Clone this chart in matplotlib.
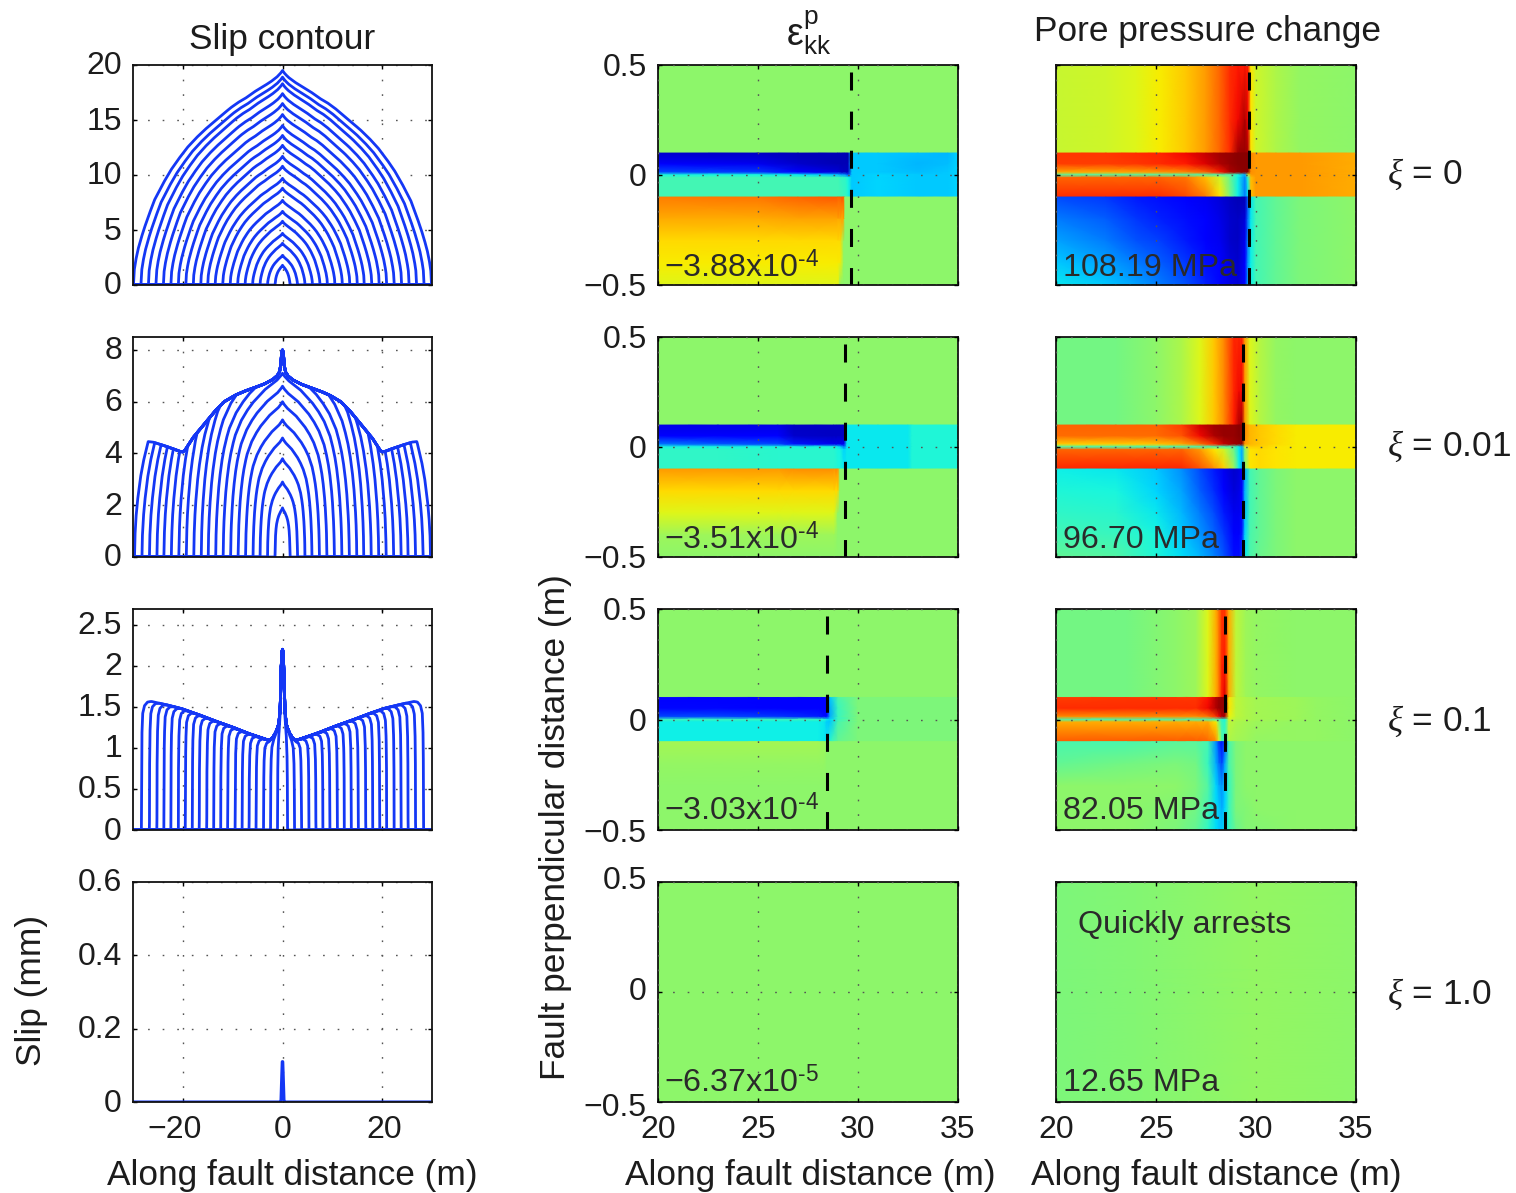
import numpy as np
import matplotlib
matplotlib.use("Agg")
import matplotlib.pyplot as plt
from matplotlib.colors import ListedColormap
from matplotlib.transforms import ScaledTranslation

plt.rcParams['font.family'] = ['Liberation Sans', 'DejaVu Sans']
plt.rcParams['mathtext.fontset'] = 'custom'
plt.rcParams['mathtext.rm'] = 'Liberation Sans'
plt.rcParams['mathtext.it'] = 'Liberation Serif:italic'
plt.rcParams['mathtext.bf'] = 'Liberation Sans:bold'

W, H = 1516, 1193
TXT = '#1c1c1c'
BLUE = '#1437f5'

# ---------- slip contours (m half length, peak slip) ----------
slip1_len = [1.5, 3.0, 4.5, 6.0, 7.5, 9.0, 10.5, 12.0, 13.5, 15.0, 16.4, 17.9, 19.4, 20.9, 22.4, 23.9, 25.4, 26.9, 28.4, 29.9]
slip1_peak = [1.8, 2.7, 3.8, 4.7, 5.8, 6.7, 7.7, 8.8, 9.7, 10.8, 11.7, 12.7, 13.6, 14.5, 15.5, 16.5, 17.4, 18.3, 18.9, 19.5]
slip1_u = [0, 0.01, 0.02, 0.04, 0.08, 0.13, 0.19, 0.25, 0.30, 0.35, 0.41, 0.46, 0.52, 0.58, 0.64, 0.70, 0.75, 0.80, 0.86, 0.90, 0.93, 0.95, 0.97, 0.985, 0.995, 1.0]
slip1_f = [1.0, 0.99, 0.982, 0.968, 0.947, 0.925, 0.90, 0.87, 0.85, 0.825, 0.79, 0.76, 0.725, 0.685, 0.64, 0.585, 0.535, 0.475, 0.395, 0.32, 0.26, 0.215, 0.165, 0.115, 0.07, 0.0]

slip2_len = [1.5, 3.0, 4.5, 5.9, 7.4, 8.9, 10.4, 11.9, 13.4, 14.9, 16.3, 17.8, 19.3, 20.8, 22.3, 23.8, 25.2, 26.7, 28.2, 29.7]
slip2_peak = [1.9, 2.9, 3.8, 4.6, 5.3, 6.0, 6.6, 7.1, 7.5, 8.0, 8.5, 8.5, 9, 9, 9, 9, 9, 9, 9, 9]
slip2_u = [0, 0.03, 0.1, 0.2, 0.3, 0.4, 0.5, 0.6, 0.7, 0.75, 0.8, 0.84, 0.88, 0.91, 0.94, 0.96, 0.98, 0.99, 0.997, 1.0]
slip2_f = [1.0, 0.985, 0.96, 0.935, 0.91, 0.875, 0.84, 0.795, 0.74, 0.70, 0.66, 0.61, 0.55, 0.49, 0.41, 0.34, 0.24, 0.17, 0.09, 0.0]
env2_x = [0, 0.1, 0.2, 0.3, 0.4, 0.6, 1.07, 2, 3.7, 5.5, 7.7, 9.5, 11.7, 13.5, 15, 16.5, 18, 19, 19.6, 20, 20.6, 21.5, 23.7, 25, 26, 27, 30]
env2_s = [8.0, 7.95, 7.8, 7.55, 7.35, 7.15, 7.0, 6.85, 6.68, 6.55, 6.4, 6.25, 6.0, 5.65, 5.3, 4.95, 4.6, 4.3, 4.12, 4.06, 4.08, 4.15, 4.3, 4.38, 4.44, 4.46, 4.46]

slip3_len = [1.0, 2.4, 3.8, 5.3, 6.7, 8.1, 9.5, 11.0, 12.4, 13.8, 15.2, 16.7, 18.1, 19.5, 20.9, 22.4, 23.8, 25.2, 26.7, 28.3]
slip3_dist = [0, 0.03, 0.1, 0.25, 0.6, 1.2, 2.0, 60]
slip3_rise = [0, 0.5, 0.75, 0.9, 0.96, 0.99, 1.0, 1.0]
env3_x = [0, 0.15, 0.3, 0.45, 0.7, 1.0, 1.4, 2.0, 2.7, 3.7, 7.1, 10.4, 13.7, 17.1, 20.4, 23.7, 26.7, 28.5, 30]
env3_s = [2.2, 2.15, 1.9, 1.5, 1.3, 1.24, 1.18, 1.12, 1.09, 1.11, 1.18, 1.26, 1.33, 1.41, 1.48, 1.53, 1.57, 1.58, 1.58]

slip4_x = [-30, -0.5, -0.3, -0.15, -0.05, 0.05, 0.15, 0.3, 0.5, 30]
slip4_y = [0, 0, 0.005, 0.07, 0.11, 0.11, 0.07, 0.005, 0, 0]

yticks_slip = [[0, 5, 10, 15, 20], [0, 2, 4, 6, 8], [0, 0.5, 1, 1.5, 2, 2.5], [0, 0.2, 0.4, 0.6]]
yticklabels_slip = [['0', '5', '10', '15', '20'], ['0', '2', '4', '6', '8'],
                    ['0', '0.5', '1', '1.5', '2', '2.5'], ['0', '0.2', '0.4', '0.6']]
ylims_slip = [20, 8.5, 2.69, 0.6]

# ---------- field panels, values are positions on the jet scale x100 ----------
Y = [0.5, 0.25, 0.101, 0.099, 0.05, 0.012, 0.0, -0.012, -0.099, -0.101, -0.2, -0.3, -0.4, -0.5]

S1_x = [20, 25, 27, 29.0, 29.1, 29.3, 29.35, 29.5, 29.7, 31, 33, 34.5, 35]
S1 = [[52]*13, [52]*13, [52]*13,
      [7, 6, 5, 5, 5, 5, 5, 4, 33, 33, 32, 31, 34],
      [12, 10, 7, 5, 5, 5, 5, 5, 33, 33, 31, 32, 34],
      [20, 18, 12, 8, 7, 6, 6, 6, 33, 33, 32, 33, 34],
      [38, 38, 36, 32, 30, 28, 28, 20, 33, 34, 33, 33, 34],
      [43, 43, 43, 43, 42, 41, 41, 38, 33, 34, 33, 33, 34],
      [43, 43, 43, 43, 43, 42, 42, 39, 33, 34, 33, 33, 34],
      [77, 78, 80, 81, 81, 81, 52, 52, 52, 52, 52, 52, 52],
      [72, 72, 73, 73, 73, 73, 52, 52, 52, 52, 52, 52, 52],
      [67, 67, 67, 67, 67, 52, 52, 52, 52, 52, 52, 52, 52],
      [65, 65, 65, 65, 65, 52, 52, 52, 52, 52, 52, 52, 52],
      [62, 62, 62, 62, 52, 52, 52, 52, 52, 52, 52, 52, 52]]

S2_x = [20, 23, 26, 26.8, 28.8, 29.0, 29.1, 29.3, 29.45, 31, 32.5, 32.7, 35]
S2 = [[52]*13, [52]*13, [52]*13,
      [9, 9, 9, 6, 6, 6, 6, 6, 36, 36, 36, 39, 39],
      [12, 12, 12, 7, 6, 6, 6, 6, 36, 36, 36, 39, 39],
      [25, 22, 20, 15, 10, 10, 10, 10, 36, 36, 36, 39, 39],
      [38, 38, 38, 38, 38, 36, 34, 24, 36, 36, 36, 39, 39],
      [41, 41, 40, 40, 40, 38, 38, 34, 36, 36, 36, 39, 39],
      [41, 41, 40, 40, 40, 39, 38, 36, 36, 36, 36, 39, 39],
      [74, 74, 74, 75, 75, 75, 52, 52, 52, 52, 52, 52, 52],
      [67, 67, 67, 67, 67, 67, 52, 52, 52, 52, 52, 52, 52],
      [62, 62, 62, 62, 62, 52, 52, 52, 52, 52, 52, 52, 52],
      [54, 54, 54, 54, 54, 52, 52, 52, 52, 52, 52, 52, 52],
      [52]*13]

S3_x = [20, 23, 26, 28, 28.3, 28.45, 28.6, 29, 30, 35]
S3 = [[52]*10, [52]*10, [52]*10,
      [12, 12, 11, 11, 11, 11, 33, 44, 50, 50],
      [13, 13, 12, 12, 11, 11, 30, 42, 50, 50],
      [20, 20, 18, 16, 14, 14, 30, 42, 50, 50],
      [42, 42, 42, 42, 40, 36, 34, 42, 50, 50],
      [37, 37, 37, 37, 36, 33, 33, 44, 50, 50],
      [37, 37, 37, 37, 36, 36, 40, 47, 50, 50],
      [55, 55, 55, 55, 54, 52, 52, 52, 52, 52],
      [53, 53, 53, 53, 53, 52, 52, 52, 52, 52],
      [52]*10, [52]*10, [52]*10]

S4_x = [20, 35]
S4 = [[52, 52]]*14

P1_x = [20, 22.5, 24, 25.2, 26.5, 27.5, 28.2, 28.7, 29.1, 29.45, 29.6, 29.75, 30, 31, 32.2, 35]
P1 = [[59, 60, 62, 65, 69, 74, 80, 86, 88, 88, 88, 66, 60, 56, 53, 52],
      [59, 60, 62, 65, 69, 74, 80, 86, 90, 96, 90, 66, 60, 56, 53, 52],
      [59, 60, 62, 65, 69, 74, 80, 86, 97, 98, 96, 66, 60, 56, 53, 52],
      [85, 85, 86, 87, 90, 94, 97, 98, 99, 99, 99, 76, 74, 74, 74, 72],
      [84, 84, 85, 86, 88, 92, 96, 98, 99, 99, 99, 75, 74, 74, 74, 72],
      [72, 72, 73, 74, 76, 80, 88, 96, 98, 99, 99, 75, 74, 74, 74, 72],
      [45, 45, 45, 45, 45, 45, 45, 45, 38, 30, 60, 74, 74, 74, 74, 72],
      [80, 80, 80, 80, 78, 70, 60, 48, 37, 26, 40, 70, 74, 74, 74, 72],
      [86, 86, 86, 86, 83, 77, 66, 50, 37, 25, 35, 70, 74, 74, 74, 72],
      [20, 18, 15, 14, 12, 10, 8, 6, 5, 5, 22, 36, 43, 47, 50, 52],
      [25, 22, 18, 16, 14, 11, 9, 7, 6, 8, 24, 36, 43, 47, 50, 52],
      [29, 25, 21, 19, 15, 12, 10, 7, 6, 10, 26, 37, 43, 47, 50, 52],
      [33, 29, 25, 22, 18, 14, 11, 8, 7, 12, 28, 37, 43, 47, 50, 52],
      [36, 33, 29, 25, 21, 16, 13, 9, 8, 13, 30, 37, 43, 47, 50, 52]]

P2_x = [20, 23, 25, 26.3, 27.2, 27.9, 28.4, 28.9, 29.15, 29.3, 29.45, 29.7, 30.2, 31, 32, 35]
P2 = [[49, 49, 52, 56, 62, 69, 76, 87, 87, 87, 74, 62, 57, 53, 52, 52],
      [49, 49, 52, 56, 62, 69, 76, 87, 90, 90, 74, 62, 57, 53, 52, 52],
      [49, 49, 52, 56, 62, 69, 76, 88, 96, 97, 74, 62, 57, 53, 52, 52],
      [80, 80, 80, 84, 93, 97, 98, 98, 99, 99, 76, 71, 69, 67, 65, 65],
      [79, 79, 79, 82, 90, 96, 98, 98, 99, 99, 76, 71, 69, 67, 65, 65],
      [68, 68, 69, 72, 78, 86, 94, 97, 98, 99, 74, 71, 69, 67, 65, 65],
      [44, 44, 44, 44, 44, 44, 44, 44, 36, 30, 60, 68, 68, 66, 65, 65],
      [80, 80, 80, 80, 74, 66, 60, 48, 36, 30, 50, 66, 67, 66, 65, 65],
      [87, 87, 87, 87, 82, 75, 68, 54, 37, 30, 52, 66, 67, 66, 65, 65],
      [37, 36, 33, 27, 20, 15, 10, 7, 8, 10, 30, 43, 47, 50, 52, 52],
      [39, 38, 34, 29, 22, 17, 12, 8, 9, 11, 31, 43, 47, 50, 52, 52],
      [41, 40, 36, 31, 25, 20, 15, 10, 10, 13, 32, 43, 47, 50, 52, 52],
      [43, 42, 38, 33, 28, 23, 18, 12, 12, 15, 34, 44, 47, 50, 52, 52],
      [47, 45, 39, 35, 31, 26, 21, 14, 14, 18, 36, 44, 48, 50, 52, 52]]

P3_x = [20, 23.5, 26, 27, 27.6, 28, 28.15, 28.3, 28.45, 28.65, 29, 29.5, 30, 32, 33, 35]
P3 = [[49, 49, 52, 54, 62, 72, 78, 85, 85, 72, 58, 54, 53, 52, 52, 52],
      [49, 49, 52, 54, 62, 72, 78, 87, 88, 72, 58, 54, 53, 52, 52, 52],
      [49, 49, 52, 54, 62, 72, 78, 88, 92, 72, 58, 54, 53, 52, 52, 52],
      [84, 85, 85, 85, 89, 95, 97, 98, 98, 66, 58, 56, 55, 54, 53, 52],
      [86, 86, 86, 86, 90, 96, 98, 98, 98, 66, 58, 56, 55, 54, 53, 52],
      [75, 75, 75, 75, 78, 85, 90, 96, 96, 64, 58, 56, 55, 54, 53, 52],
      [43, 43, 43, 43, 43, 43, 43, 40, 38, 60, 57, 56, 55, 54, 53, 52],
      [72, 72, 72, 72, 72, 65, 50, 42, 40, 58, 56, 55, 54, 53, 53, 52],
      [81, 81, 81, 81, 80, 76, 62, 44, 44, 56, 55, 54, 53, 53, 53, 52],
      [44, 44, 46, 46, 43, 27, 18, 14, 22, 44, 50, 52, 52, 52, 52, 52],
      [47, 49, 50, 49, 42, 30, 24, 20, 30, 44, 50, 52, 52, 52, 52, 52],
      [52, 52, 52, 50, 45, 34, 30, 28, 33, 42, 50, 52, 52, 52, 52, 52],
      [52, 52, 51, 49, 43, 35, 33, 30, 34, 42, 50, 51, 52, 52, 52, 52],
      [52, 52, 50, 47, 41, 35, 33, 33, 36, 42, 48, 51, 51, 52, 52, 52]]

P4_x = [20, 24, 30, 35]
P4 = [[50, 51, 53, 52]]*14

tip_strain = [29.65, 29.35, 28.45, None]
tip_pressure = [29.65, 29.35, 28.45, None]
strain_notes = ['\u22123.88x10$^{\\mathregular{\u20104}}$', '\u22123.51x10$^{\\mathregular{\u20104}}$',
                '\u22123.03x10$^{\\mathregular{\u20104}}$', '\u22126.37x10$^{\\mathregular{\u20105}}$']
pressure_notes = ['108.19 MPa', '96.70 MPa', '82.05 MPa', '12.65 MPa']
xi_labels = ['$\\mathit{\\xi}$ = 0', '$\\mathit{\\xi}$ = 0.01', '$\\mathit{\\xi}$ = 0.1', '$\\mathit{\\xi}$ = 1.0']

# ---------- layout ----------
rows_px = [(65, 285), (337, 557), (609, 830), (882, 1102)]
cols_px = [(133, 432), (658, 958), (1056, 1356)]
xi_y = [174, 446, 721, 994]
note_y = [268, 540, 811, 1083]

fig = plt.figure(figsize=(W / 100, H / 100), dpi=100, facecolor='white')

# the reference's jet has a slightly muted green channel
base = plt.get_cmap('jet')(np.arange(256) / 255.0)
base[:, 1] *= 0.965
muted_jet = ListedColormap(base)


def axes_px(col, row):
    (x0, x1), (y0, y1) = cols_px[col], rows_px[row]
    return fig.add_axes([x0 / W, 1 - y1 / H, (x1 - x0) / W, (y1 - y0) / H])


def ftext(x, y, s, **kw):
    kw.setdefault('ha', 'center')
    kw.setdefault('va', 'center')
    kw.setdefault('fontsize', 25.4)
    kw.setdefault('color', TXT)
    fig.text(x / W, 1 - y / H, s, **kw)


def nudge(label, dx, dy):
    """Move a tick label by pixels (dx right, dy up)."""
    label.set_transform(label.get_transform() + ScaledTranslation(dx / 100, dy / 100, fig.dpi_scale_trans))


def style(ax):
    for sp in ax.spines.values():
        sp.set_linewidth(1.3)
        sp.set_color('#111111')
    ax.tick_params(direction='in', length=3, width=1.0, top=True, right=True,
                   labelsize=23, pad=8, labelcolor=TXT)
    ax.grid(True, color='#555555', lw=1.0, linestyle=(0, (1.2, 9.3)))
    ax.set_axisbelow(False)


x_sample = np.concatenate([np.linspace(-30, -3, 900), np.linspace(-3, 3, 900)[1:], np.linspace(3, 30, 900)[1:]])


def curve1(L, h):
    return h * np.interp(np.abs(x_sample) / L, slip1_u, slip1_f, right=0)


def curve2(L, h):
    arc = h * np.interp(np.abs(x_sample) / L, slip2_u, slip2_f, right=0)
    return np.minimum(arc, np.interp(np.abs(x_sample), env2_x, env2_s))


def curve3(L):
    d = np.clip(L - np.abs(x_sample), 0, None)
    return np.interp(np.abs(x_sample), env3_x, env3_s) * np.interp(d, slip3_dist, slip3_rise)


for r in range(4):
    ax = axes_px(0, r)
    style(ax)
    ax.set_axisbelow(True)
    if r == 0:
        for L, h in zip(slip1_len, slip1_peak):
            ax.plot(x_sample, curve1(L, h), color=BLUE, lw=2.0)
    elif r == 1:
        for L, h in zip(slip2_len, slip2_peak):
            ax.plot(x_sample, curve2(L, h), color=BLUE, lw=2.0)
    elif r == 2:
        for L in slip3_len:
            ax.plot(x_sample, curve3(L), color=BLUE, lw=2.0)
    else:
        ax.plot(slip4_x, slip4_y, color=BLUE, lw=2.2)
    ax.set_xlim(-30, 30)
    ax.set_ylim(0, ylims_slip[r])
    ax.set_yticks(yticks_slip[r])
    ax.set_yticklabels(yticklabels_slip[r])
    ax.set_xticks([-20, 0, 20])
    if r == 3:
        ax.set_xticklabels(['\u221220', '0', '20'])
        labs = ax.get_xticklabels()
        nudge(labs[0], -8, -2)
        nudge(labs[1], 0, -2)
        nudge(labs[2], 2, -2)
    else:
        ax.tick_params(labelbottom=False)
    for lab in ax.get_yticklabels():
        nudge(lab, 0, 2)

strain = [(S1_x, S1), (S2_x, S2), (S3_x, S3), (S4_x, S4)]
pressure = [(P1_x, P1), (P2_x, P2), (P3_x, P3), (P4_x, P4)]

for col, data, tips, notes in ((1, strain, tip_strain, strain_notes), (2, pressure, tip_pressure, pressure_notes)):
    for r in range(4):
        ax = axes_px(col, r)
        style(ax)
        xk, table = data[r]
        ax.pcolormesh(xk, Y, np.array(table) / 100.0, shading='gouraud', cmap=muted_jet, vmin=0, vmax=1,
                      rasterized=True)
        if tips[r] is not None:
            ax.plot([tips[r], tips[r]], [0.47, -0.5], color='black', lw=2.2,
                    linestyle=(0, (5.9, 6.9)), dash_capstyle='butt')
        ax.set_xlim(20, 35)
        ax.set_ylim(-0.5, 0.5)
        ax.set_xticks([20, 25, 30, 35])
        ax.set_yticks([-0.5, 0, 0.5])
        if col == 1:
            ax.set_yticklabels(['\u22120.5', '0', '0.5'])
            if r == 3:
                ylabs = ax.get_yticklabels()
                nudge(ylabs[0], 0, -3)
                nudge(ylabs[1], 0, 3)
                nudge(ylabs[2], 0, 4)
        else:
            ax.tick_params(labelleft=False)
        if r == 3:
            ax.set_xticklabels(['20', '25', '30', '35'])
            for lab in ax.get_xticklabels():
                nudge(lab, 0, -2)
        else:
            ax.tick_params(labelbottom=False)
        ftext(cols_px[col][0] + (6 if col == 1 else 7), note_y[r], notes[r], ha='left', fontsize=23.2, color='#2a2a2a')

ftext(282, 39, 'Slip contour')
ftext(809, 33, r'$\mathrm{\epsilon}^{\mathrm{p}}_{\mathrm{kk}}$', fontsize=27)
ftext(1207, 32, 'Pore pressure change')
ftext(292, 1175, 'Along fault distance (m)')
ftext(810, 1175, 'Along fault distance (m)')
ftext(1216, 1175, 'Along fault distance (m)')
ftext(32, 990, 'Slip (mm)', rotation=90)
ftext(555, 827, 'Fault perpendicular distance (m)', rotation=90)
ftext(1078, 925, 'Quickly arrests', ha='left', fontsize=23.2, color='#2a2a2a')
for yy, s in zip(xi_y, xi_labels):
    ftext(1387, yy, s, ha='left', fontsize=25.4)

fig.savefig('out.png', dpi=100, facecolor='white')
